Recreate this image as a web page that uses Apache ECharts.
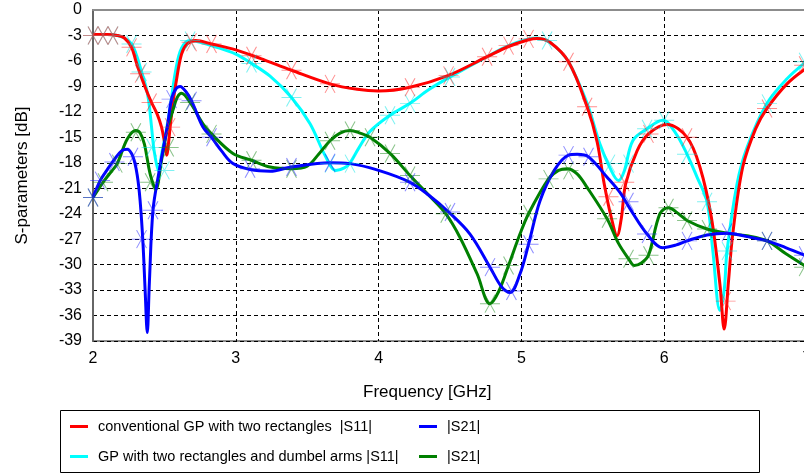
<!DOCTYPE html>
<html>
<head>
<meta charset="utf-8">
<script src="https://cdn.jsdelivr.net/npm/echarts@6/dist/echarts.min.js"></script>
<style>
html,body{margin:0;padding:0;background:#fff;}
#chart{width:804px;height:473px;}
</style>
</head>
<body>
<div id="chart"></div>
<script>
// ---- data (frequency GHz, dB) ----
const xTicks = [2, 3, 4, 5, 6, 7];
const yTicks = [0, -3, -6, -9, -12, -15, -18, -21, -24, -27, -30, -33, -36, -39];

const seriesNames = [
  'conventional GP with two rectangles  |S11|',
  '|S21| ',
  'GP with two rectangles and dumbel arms |S11|',
  '|S21|'
];

// conventional GP |S11| (red)
const redLine = [
  [2.0,-2.9],[2.1,-2.9],[2.17,-3.0],[2.22,-3.3],[2.27,-4.4],[2.30,-6.0],[2.33,-7.5],[2.37,-9.3],
  [2.41,-10.9],[2.45,-12.3],[2.48,-13.8],[2.50,-15.5],[2.516,-17.1],[2.53,-15.5],[2.54,-13.8],
  [2.56,-11.0],[2.58,-8.7],[2.62,-5.2],[2.66,-4.0],[2.72,-3.6],[2.83,-4.0],[3.0,-4.7],[3.17,-5.7],
  [3.39,-7.1],[3.66,-8.7],[3.85,-9.35],[4.0,-9.55],[4.22,-9.1],[4.49,-7.7],[4.76,-5.5],[4.91,-4.3],
  [5.05,-3.5],[5.11,-3.35],[5.2,-3.8],[5.33,-6.1],[5.46,-11.4],[5.53,-15.5],[5.58,-20.5],[5.63,-24.5],
  [5.67,-26.6],[5.70,-24.5],[5.73,-20.5],[5.81,-16.6],[5.89,-14.6],[6.02,-13.5],[6.16,-15.0],
  [6.25,-18.5],[6.33,-24.4],[6.39,-32.3],[6.42,-37.6],[6.45,-32.0],[6.48,-26.4],[6.55,-18.5],
  [6.64,-14.0],[6.72,-11.6],[6.86,-8.7],[7.0,-6.8]
];
const redMarks = [
  [2.0,-3],[2.07,-3],[2.14,-3],[2.27,-4.4],[2.33,-7.5],[2.41,-10.9],[2.54,-13.8],[2.69,-3.8],
  [2.83,-4.0],[3.11,-5.4],[3.39,-7.1],[3.66,-8.7],[4.22,-9.1],[4.49,-7.7],[4.76,-5.5],[4.91,-4.2],
  [5.05,-3.4],[5.33,-6.1],[5.46,-11.4],[5.61,-22.0],[5.72,-20.3],[5.89,-14.6],[6.16,-15.0],
  [6.43,-34.3],[6.72,-11.6],[6.98,-6.5]
];

// conventional GP |S21| (blue)
const blueLine = [
  [2.0,-22.1],[2.05,-20.1],[2.10,-18.8],[2.15,-17.6],[2.20,-16.6],[2.24,-16.4],[2.28,-17.3],
  [2.31,-19.5],[2.33,-22.5],[2.35,-27.5],[2.365,-33.0],[2.38,-38.0],[2.395,-32.0],[2.42,-23.6],
  [2.46,-19.3],[2.52,-13.8],[2.55,-10.5],[2.58,-9.3],[2.61,-9.0],[2.65,-9.6],[2.69,-10.7],
  [2.77,-13.8],[2.83,-15.0],[2.90,-16.6],[2.98,-18.1],[3.10,-18.8],[3.24,-19.0],[3.39,-18.5],
  [3.66,-18.0],[3.80,-18.1],[4.0,-18.9],[4.22,-20.3],[4.35,-21.8],[4.49,-23.8],[4.64,-26.4],
  [4.78,-30.3],[4.86,-32.6],[4.92,-33.3],[4.99,-31.1],[5.05,-27.6],[5.13,-22.5],[5.23,-18.9],
  [5.33,-17.1],[5.39,-17.0],[5.47,-17.3],[5.60,-19.7],[5.69,-21.5],[5.76,-23.4],[5.88,-26.4],
  [5.99,-28.0],[6.08,-27.7],[6.16,-27.2],[6.30,-26.5],[6.44,-26.3],[6.58,-26.7],[6.72,-27.2],
  [6.85,-28.0],[7.0,-29.0]
];
const blueMarks = [
  [2.0,-22.1],[2.05,-20.1],[2.15,-17.9],[2.28,-17.3],[2.34,-27.0],[2.42,-23.6],[2.55,-10.5],
  [2.69,-10.7],[2.83,-15.0],[3.10,-18.7],[3.39,-18.5],[3.66,-18.0],[4.22,-20.3],[4.50,-23.8],
  [4.78,-30.3],[4.93,-33.1],[5.05,-27.6],[5.33,-17.1],[5.47,-17.3],[5.75,-22.6],[5.88,-26.4],
  [6.16,-27.2],[6.44,-26.2],[6.72,-27.2],[6.98,-28.9]
];

// dumbel GP |S11| (cyan)
const cyanLine = [
  [2.0,-2.9],[2.1,-2.9],[2.17,-3.0],[2.22,-3.3],[2.27,-4.0],[2.31,-5.6],[2.34,-7.3],[2.37,-9.0],
  [2.39,-10.7],[2.41,-13.8],[2.43,-16.8],[2.46,-19.0],[2.48,-17.0],[2.51,-14.5],[2.54,-11.5],
  [2.58,-7.0],[2.62,-4.5],[2.68,-3.6],[2.75,-3.8],[2.85,-4.3],[3.0,-5.2],[3.11,-6.3],[3.24,-7.8],
  [3.39,-10.3],[3.52,-13.4],[3.63,-17.3],[3.70,-18.9],[3.76,-18.6],[3.80,-18.0],[3.86,-16.3],
  [3.94,-14.3],[4.08,-12.4],[4.22,-11.0],[4.35,-9.4],[4.50,-7.9],[4.76,-5.5],[4.91,-4.2],
  [5.05,-3.4],[5.11,-3.3],[5.18,-3.6],[5.25,-4.5],[5.33,-6.1],[5.46,-11.0],[5.55,-15.8],
  [5.62,-18.6],[5.68,-20.1],[5.72,-19.0],[5.78,-15.4],[5.88,-14.0],[5.99,-13.0],[6.08,-14.5],
  [6.16,-17.0],[6.23,-19.7],[6.30,-22.6],[6.34,-28.3],[6.39,-35.4],[6.42,-33.0],[6.44,-28.4],
  [6.51,-20.5],[6.58,-16.2],[6.72,-11.0],[6.86,-8.1],[7.0,-6.0]
];
const cyanMarks = [
  [2.0,-3],[2.07,-3],[2.14,-3],[2.27,-4.0],[2.34,-7.3],[2.41,-16.2],[2.50,-18.9],[2.68,-3.6],
  [3.11,-6.3],[3.39,-10.3],[3.66,-18.1],[3.80,-18.1],[4.08,-12.4],[4.22,-11.0],[4.50,-7.9],
  [5.18,-3.6],[5.62,-18.1],[5.75,-18.1],[5.88,-14.0],[6.0,-13.0],[6.16,-17.0],[6.30,-22.6],
  [6.44,-28.4],[6.72,-11.0],[6.98,-6.1]
];

// dumbel GP |S21| (green)
const greenLine = [
  [2.0,-22.1],[2.07,-20.3],[2.13,-19.0],[2.17,-18.1],[2.24,-15.2],[2.30,-14.2],[2.33,-14.5],
  [2.36,-15.8],[2.40,-19.3],[2.44,-21.1],[2.48,-17.7],[2.52,-14.0],[2.56,-11.8],[2.59,-10.3],
  [2.62,-9.8],[2.68,-10.9],[2.77,-13.4],[2.83,-14.6],[2.98,-16.9],[3.11,-17.7],[3.24,-18.5],
  [3.39,-18.7],[3.50,-18.4],[3.58,-17.0],[3.66,-15.4],[3.73,-14.5],[3.80,-14.2],[3.87,-14.5],
  [3.94,-15.0],[4.08,-16.9],[4.22,-19.5],[4.35,-21.8],[4.47,-24.0],[4.57,-26.8],[4.69,-31.1],
  [4.78,-34.6],[4.84,-33.2],[4.91,-30.1],[4.99,-26.4],[5.05,-24.0],[5.19,-19.9],[5.26,-18.9],
  [5.32,-18.7],[5.39,-19.3],[5.46,-20.9],[5.60,-24.6],[5.68,-27.5],[5.75,-29.3],[5.79,-30.1],
  [5.84,-29.8],[5.89,-28.9],[5.97,-24.0],[6.03,-23.3],[6.10,-24.0],[6.16,-24.8],[6.30,-25.8],
  [6.44,-26.3],[6.58,-26.6],[6.72,-27.2],[6.85,-28.7],[7.0,-30.3]
];
const greenMarks = [
  [2.0,-22.1],[2.07,-20.3],[2.17,-18.1],[2.30,-14.4],[2.40,-20.3],[2.53,-16.2],[2.68,-10.9],
  [2.83,-14.6],[3.11,-17.7],[3.39,-18.7],[3.66,-15.4],[3.80,-14.2],[3.94,-15.0],[4.08,-16.9],
  [4.22,-19.5],[4.47,-24.0],[4.78,-34.6],[4.91,-30.1],[5.05,-24.0],[5.19,-19.9],[5.33,-18.9],
  [5.60,-24.6],[5.75,-29.3],[5.89,-28.9],[6.03,-23.3],[6.16,-24.8],[6.30,-25.8],[6.72,-27.2],
  [6.98,-30.3]
];

// ---- chart ----
const FONT = 'Liberation Sans, Arial, sans-serif';
const STAR = 'path://M0,10L20,10M5,0L15,20M15,0L5,20';

function lineSeries(name, data, color, z) {
  return {
    name: name, type: 'line', data: data, smooth: 0.35, showSymbol: false, symbol: 'none',
    lineStyle: { color: color, width: 3 }, itemStyle: { color: color }, z: z,
    emphasis: { disabled: true }, animation: false
  };
}
function markSeries(name, data, color, z) {
  return {
    name: name, type: 'scatter', data: data, symbol: STAR, symbolSize: [20, 18],
    itemStyle: { color: 'transparent', borderColor: color, borderWidth: 1, opacity: 0.5 },
    z: z, emphasis: { disabled: true }, animation: false, silent: true
  };
}

const chart = echarts.init(document.getElementById('chart'), null, { renderer: 'canvas' });
chart.setOption({
  animation: false,
  backgroundColor: '#fff',
  grid: { left: 93, top: 10, width: 714, height: 331, outerBoundsMode: 'none', containLabel: false,
    show: true, borderColor: '#8c8c8c', borderWidth: 2, backgroundColor: 'transparent' },
  xAxis: {
    type: 'value', min: 2, max: 7, interval: 1,
    axisLine: { show: true, lineStyle: { color: '#8c8c8c', width: 2 } },
    axisTick: { show: false },
    axisLabel: { color: '#000', fontSize: 16, fontFamily: FONT, margin: 10, showMaxLabel: true,
      formatter: v => (xTicks.indexOf(v) >= 0 ? String(v) : '') },
    splitLine: { show: true, lineStyle: { color: '#000', type: [4, 3], width: 1 } }
  },
  yAxis: {
    type: 'value', min: -39, max: 0, interval: 3,
    name: 'S-parameters [dB]', nameLocation: 'middle', nameGap: 62,
    nameTextStyle: { color: '#000', fontSize: 17, fontFamily: FONT },
    axisLine: { show: true, lineStyle: { color: '#666', width: 2 } },
    axisTick: { show: false },
    axisLabel: { color: '#000', fontSize: 16, fontFamily: FONT, margin: 11,
      formatter: v => (yTicks.indexOf(v) >= 0 ? String(v) : '') },
    splitLine: { show: true, lineStyle: { color: '#000', type: [4, 3], width: 1 } }
  },
  graphic: [
    { type: 'text', left: 428 - 65, top: 384, style: { text: 'Frequency [GHz]', fill: '#000', font: '17px ' + FONT } },
    { type: 'rect', shape: { x: 60.5, y: 410.5, width: 699, height: 62 }, style: { fill: '#fff', stroke: '#000', lineWidth: 1 }, z: -1 }
  ],
  legend: [
    { data: [seriesNames[0], seriesNames[2]], orient: 'vertical', left: 70, top: 419, itemGap: 15,
      itemWidth: 18, itemHeight: 3, icon: 'rect', padding: 0, selectedMode: false,
      textStyle: { color: '#000', fontSize: 14.5, fontFamily: FONT, padding: [0, 0, 0, 5] } },
    { data: [seriesNames[1], seriesNames[3]], orient: 'vertical', left: 419, top: 419, itemGap: 15,
      itemWidth: 18, itemHeight: 3, icon: 'rect', padding: 0, selectedMode: false,
      textStyle: { color: '#000', fontSize: 14.5, fontFamily: FONT, padding: [0, 0, 0, 5] } }
  ],
  series: [
    lineSeries(seriesNames[2], cyanLine, '#00ffff', 2),
    lineSeries(seriesNames[0], redLine, '#ff0000', 3),
    lineSeries(seriesNames[3], greenLine, '#008000', 4),
    lineSeries(seriesNames[1], blueLine, '#0000ff', 5),
    markSeries('m-cyan', cyanMarks, '#00e5e5', 6),
    markSeries('m-red', redMarks, '#ff2020', 6),
    markSeries('m-green', greenMarks, '#1a8a1a', 6),
    markSeries('m-blue', blueMarks, '#2020ff', 6)
  ]
});
</script>
</body>
</html>
